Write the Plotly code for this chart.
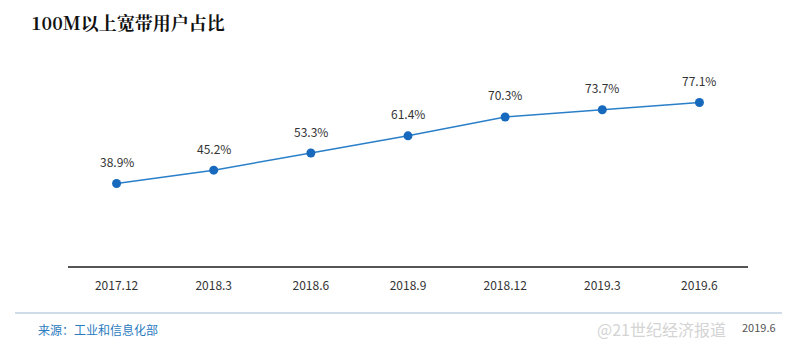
import plotly.graph_objects as go

categories = ["2017.12", "2018.3", "2018.6", "2018.9", "2018.12", "2019.3", "2019.6"]
values = [38.9, 45.2, 53.3, 61.4, 70.3, 73.7, 77.1]
labels = [f"{v:.1f}%" for v in values]

title = "100M以上宽带用户占比"
source = "来源：工业和信息化部"
watermark = "@21世纪经济报道"
date_note = "2019.6"

fig = go.Figure()
fig.add_trace(go.Scatter(
    x=categories, y=values, mode="lines+markers",
    line=dict(color="#2a7fc9", width=1.6),
    marker=dict(color="#1769bd", size=9),
    cliponaxis=False, hoverinfo="skip",
))
for i, (v, t) in enumerate(zip(values, labels)):
    fig.add_annotation(x=i, y=v, text=t, showarrow=False, yshift=22,
                       font=dict(family="Noto Sans CJK SC, sans-serif", size=12, color="#333333"))

fig.update_layout(
    width=800, height=354,
    margin=dict(l=68, r=52, t=54, b=88),
    paper_bgcolor="white", plot_bgcolor="white",
    showlegend=False,
    xaxis=dict(type="category", range=[-0.5, 6.5], showgrid=False, zeroline=False,
               showline=True, linecolor="#555555", linewidth=1.5, ticks="",
               ticklabelstandoff=8,
               tickfont=dict(family="Noto Sans CJK SC, sans-serif", size=12, color="#333333"),
               fixedrange=True),
    yaxis=dict(range=[0, 100], visible=False, fixedrange=True),
    font=dict(family="Noto Sans CJK SC, sans-serif"),
)

fig.add_annotation(xref="paper", yref="paper", x=(29 - 68) / 680, xanchor="left",
                   y=(266 - 22) / 212, yanchor="middle",
                   text=f"<b>{title}</b>", showarrow=False,
                   font=dict(family="Noto Serif CJK SC, Noto Sans CJK SC, serif", size=18, color="#111111"))

# bottom separator line
fig.add_shape(type="line", xref="paper", yref="paper",
              x0=(15 - 68) / 680, x1=(782 - 68) / 680,
              y0=-(313 - 266) / 212, y1=-(313 - 266) / 212,
              line=dict(color="#9fb7cc", width=1))
fig.add_annotation(xref="paper", yref="paper", x=(36 - 68) / 680, xanchor="left",
                   y=-(329 - 266) / 212, yanchor="middle",
                   text=source, showarrow=False,
                   font=dict(family="Noto Sans CJK SC, sans-serif", size=12, color="#2b7bbf"))
fig.add_annotation(xref="paper", yref="paper", x=(728 - 68) / 680, xanchor="right",
                   y=-(329 - 266) / 212, yanchor="middle",
                   text=watermark, showarrow=False,
                   font=dict(family="Noto Sans CJK SC, sans-serif", size=16, color="#d4d4d4"))
fig.add_annotation(xref="paper", yref="paper", x=(778 - 68) / 680, xanchor="right",
                   y=-(327 - 266) / 212, yanchor="middle",
                   text=date_note, showarrow=False,
                   font=dict(family="Noto Sans CJK SC, sans-serif", size=11, color="#555555"))

fig.write_html("out.html")
